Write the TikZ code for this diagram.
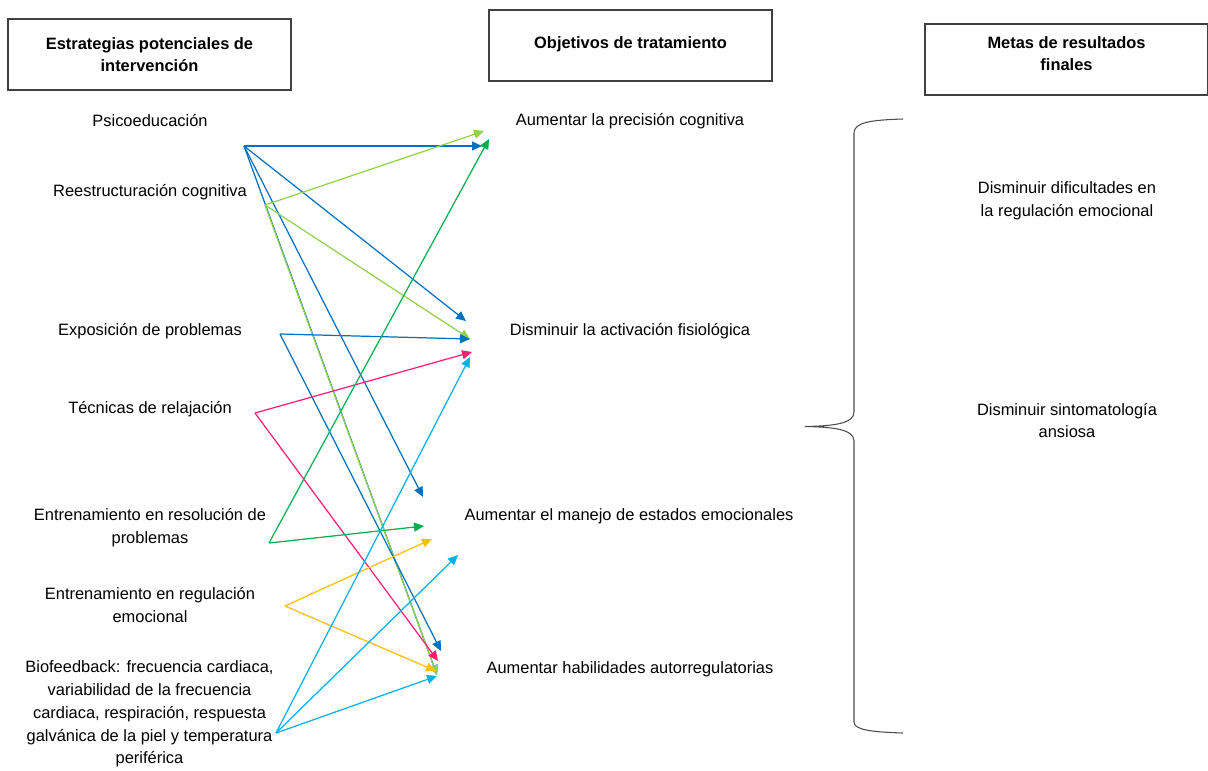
\documentclass[tikz,border=0pt]{standalone}
\usepackage{fontspec}
\setmainfont{Liberation Sans}
\usetikzlibrary{arrows.meta}

\definecolor{cblue}{HTML}{0070C0}
\definecolor{clime}{HTML}{92D050}
\definecolor{cgreen}{HTML}{00B050}
\definecolor{cpink}{HTML}{FF1F70}
\definecolor{cyellow}{HTML}{FFC000}
\definecolor{ccyan}{HTML}{00B0F0}

\tikzset{
  titlebox/.style={draw=black!75, line width=0.6pt, minimum width=56.6mm, minimum height=14.2mm,
    align=center, font=\bfseries\fontsize{9.35}{12.5}\selectfont},
  txt/.style={align=center, font=\fontsize{9.35}{13}\selectfont},
  link/.style={line width=0.7pt, -{Triangle[length=2mm,width=1.8mm]}},
  brace/.style={draw=black!70, line width=0.6pt}
}

\begin{document}
\begin{tikzpicture}[x=0.2mm,y=-0.2mm]
    \useasboundingbox (0,0) rectangle (1208,770);

    \node[titlebox] (hstrat) at (149.5,54.5) {Estrategias potenciales de\\intervención};
    \node[titlebox, text depth=1.2mm] (hobj) at (630.5,45.5) {Objetivos de tratamiento};
    \node[titlebox, text depth=2.5mm] (hmeta) at (1066.5,59.5) {Metas de resultados\\finales};

    \node[txt] (psico) at (150,121) {Psicoeducación};
    \node[txt] (reest) at (150,192) {Reestructuración cognitiva};
    \node[txt] (expo) at (150,331) {Exposición de problemas};
    \node[txt] (relax) at (150,409) {Técnicas de relajación};
    \node[txt] (resol) at (150,527.5) {Entrenamiento en resolución de\\problemas};
    \node[txt] (regul) at (150,605) {Entrenamiento en regulación\\emocional};
    \node[txt] (biof) at (149.5,714) {Biofeedback: frecuencia cardiaca,\\variabilidad de la frecuencia\\cardiaca, respiración, respuesta\\galvánica de la piel y temperatura\\periférica};

    \node[txt] (precis) at (630,121) {Aumentar la precisión cognitiva};
    \node[txt] (activ) at (630,331) {Disminuir la activación fisiológica};
    \node[txt] (manejo) at (629,516) {Aumentar el manejo de estados emocionales};
    \node[txt] (habil) at (630,669) {Aumentar habilidades autorregulatorias};

    \node[txt] (difreg) at (1067,201) {Disminuir dificultades en\\la regulación emocional};
    \node[txt] (sintom) at (1067,420.5) {Disminuir sintomatología\\ansiosa};

    % puntos de salida
    \coordinate (sPsico) at (244,146);
    \coordinate (sReest) at (265,205);
    \coordinate (sExpo) at (280,334);
    \coordinate (sRelax) at (255,413);
    \coordinate (sResol) at (269,543);
    \coordinate (sRegul) at (285,606);
    \coordinate (sBiof) at (276,733);

    % puntos de llegada
    \coordinate (ePrecA) at (482,146);
    \coordinate (ePrecB) at (484,131);
    \coordinate (ePrecC) at (489,139);
    \coordinate (eActA) at (466,321);
    \coordinate (eActB) at (470,339);
    \coordinate (eActC) at (472,352);
    \coordinate (eActD) at (470,357);
    \coordinate (eManA) at (423,497);
    \coordinate (eManB) at (424,526);
    \coordinate (eManC) at (432,539);
    \coordinate (eManD) at (458,555);
    \coordinate (eHabA) at (441,651);
    \coordinate (eHabB) at (438,661);
    \coordinate (eHabC) at (436,671);
    \coordinate (eHabD) at (437,675);
    \coordinate (eHabE) at (437,676);

    \draw[link,cblue] (sPsico) -- (ePrecA);
    \draw[link,cblue] (sPsico) -- (eActA);
    \draw[link,cblue] (sPsico) -- (eManA);
    \draw[link,cblue] (sPsico) -- (eHabD);
    \draw[link,clime] (sReest) -- (ePrecB);
    \draw[link,clime] (sReest) -- (eActB);
    \draw[link,clime] (sReest) -- (eHabD);
    \draw[link,cblue] (sExpo) -- (eActB);
    \draw[link,cblue] (sExpo) -- (eHabA);
    \draw[link,cpink] (sRelax) -- (eActC);
    \draw[link,cpink] (sRelax) -- (eHabB);
    \draw[link,cgreen] (sResol) -- (ePrecC);
    \draw[link,cgreen] (sResol) -- (eManB);
    \draw[link,cyellow] (sRegul) -- (eManC);
    \draw[link,cyellow] (sRegul) -- (eHabC);
    \draw[link,ccyan] (sBiof) -- (eActD);
    \draw[link,ccyan] (sBiof) -- (eManD);
    \draw[link,ccyan] (sBiof) -- (eHabE);

    \draw[brace] (903,119) .. controls (872,120) and (854,122) .. (854,133) -- (854,412)
        .. controls (854,424) and (832,426) .. (805,426.5)
        .. controls (832,427) and (854,429) .. (854,441) -- (854,722)
        .. controls (854,730) and (872,732) .. (903,733);
\end{tikzpicture}
\end{document}
